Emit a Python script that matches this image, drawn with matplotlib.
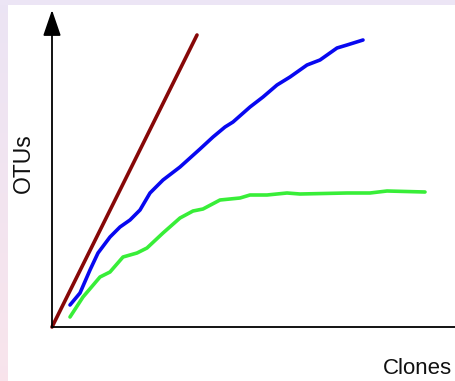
import matplotlib
matplotlib.use('Agg')
import matplotlib.pyplot as plt
import numpy as np

plt.rcParams['font.family'] = ['Liberation Sans', 'DejaVu Sans']

# rarefaction-style curves, arbitrary units (clones vs OTUs)
red_x = [0, 145]
red_y = [0, 292]

blue_x = [18, 28, 38, 46, 58, 68, 78, 88, 98, 111, 128, 148, 161, 173, 181,
          198, 211, 225, 238, 255, 268, 285, 295, 311]
blue_y = [22, 34, 57, 74, 90, 100, 107, 117, 134, 147, 160, 178, 190, 200, 205,
          220, 230, 242, 250, 262, 267, 279, 282, 287]

green_x = [18, 31, 48, 58, 71, 85, 95, 111, 128, 141, 151, 168, 188, 198, 215,
           235, 248, 295, 318, 335, 373]
green_y = [10, 30, 50, 55, 70, 74, 79, 94, 109, 116, 118, 127, 129, 132, 132,
           134, 133, 134, 134, 136, 135]

W, H = 455, 381
fig = plt.figure(figsize=(W / 100, H / 100), dpi=100)
fig.patch.set_facecolor('white')

# lavender frame: top band and left strip with a soft gradient
top = fig.add_axes([0, 1 - 5 / H, 1, 5 / H])
top.set_axis_off()
top.add_patch(plt.Rectangle((0, 0), 1, 1, color='#ECE5F5', transform=top.transAxes))
left = fig.add_axes([0, 0, 8 / W, 1 - 5 / H])
grad = np.linspace(0, 1, 50).reshape(-1, 1)
c_top = np.array([0.925, 0.898, 0.957])
c_bot = np.array([0.973, 0.894, 0.925])
img = c_top[None, None, :] * (1 - grad[:, :, None]) + c_bot[None, None, :] * grad[:, :, None]
left.imshow(img, aspect='auto', extent=[0, 1, 0, 1], origin='upper')
left.set_axis_off()

ax = fig.add_axes([52 / W, 54 / H, (W - 52) / W, (327 - 10) / H])
ax.set_xlim(0, 403)
ax.set_ylim(0, 317)
ax.patch.set_alpha(0)

lw = 2.6
style = dict(lw=lw, solid_capstyle='round', solid_joinstyle='round', clip_on=False)
ax.plot(green_x, green_y, color='#38EE38', **style)
ax.plot(blue_x, blue_y, color='#0808F0', **style)
ax.plot(red_x, red_y, color='#870808', **style)

for s in ['top', 'right', 'left']:
    ax.spines[s].set_visible(False)
ax.spines['bottom'].set_linewidth(1.3)
ax.set_xticks([])
ax.set_yticks([])

ax.annotate('', xy=(0, 1), xytext=(0, 0), xycoords='axes fraction',
            arrowprops=dict(arrowstyle='-|>,head_length=1.6,head_width=0.55',
                            lw=1.3, color='black', shrinkA=0, shrinkB=0))

fig.text(23 / W, 1 - 163 / H, 'OTUs', rotation=90, ha='center', va='center',
         fontsize=16.5, color='#111111')
fig.text(452 / W, 1 - 369 / H, 'Clones', ha='right', va='center',
         fontsize=16, color='#111111')

fig.savefig('out.png', dpi=100)
